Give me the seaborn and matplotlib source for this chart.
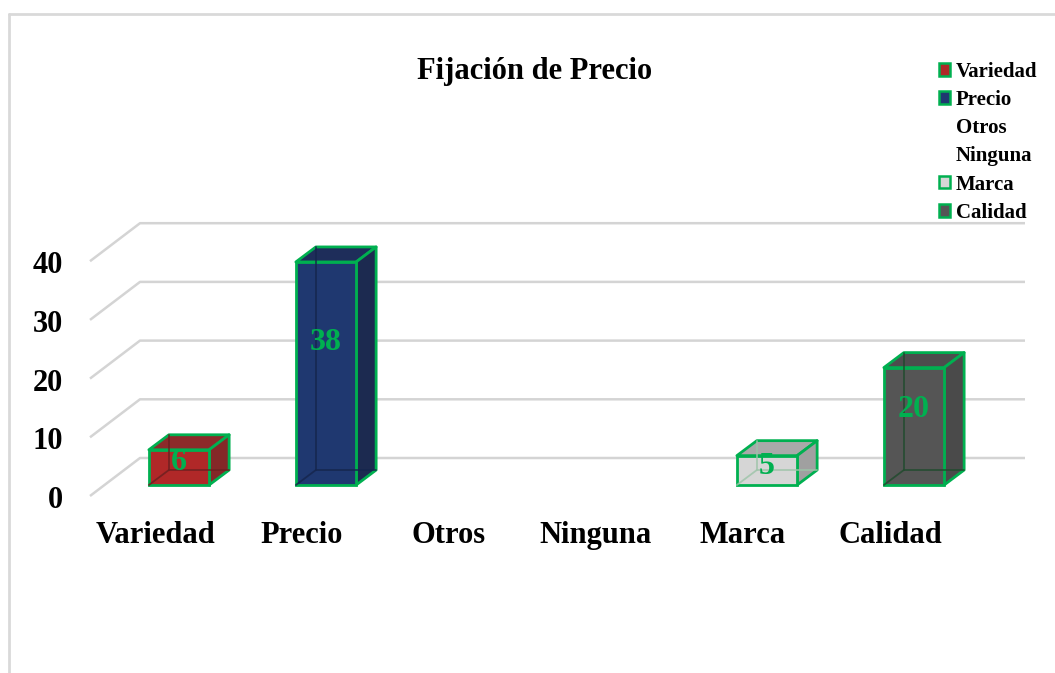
import matplotlib
matplotlib.use("Agg")
import matplotlib.pyplot as plt
import matplotlib.transforms as mtransforms
from matplotlib.patches import Polygon, Patch
from matplotlib.lines import Line2D
import seaborn as sns
import pandas as pd

# ---- data ----
categories = ["Variedad", "Precio", "Otros", "Ninguna", "Marca", "Calidad"]
values = [6, 38, 0, 0, 5, 20]
y_ticks = [0, 10, 20, 30, 40]
title = "Fijación de Precio"

# ---- styles ----
front_colors = ["#B02828", "#1F3870", "#FFFFFF", "#FFFFFF", "#D6D6D6", "#555555"]
top_colors = ["#8C2A2A", "#1E2D5A", "#FFFFFF", "#FFFFFF", "#A9A9A9", "#4D4D4D"]
side_colors = ["#842828", "#1C2A50", "#FFFFFF", "#FFFFFF", "#A0A0A0", "#4A4A4A"]
hidden_colors = ["#6A2020", "#15254C", "#FFFFFF", "#FFFFFF", "#9CC4A8", "#1F4A2C"]
EDGE = "#00B050"
GRID = "#D4D4D4"
FONT = "Liberation Serif"

sns.set_theme(style="white")
plt.rcParams["font.family"] = [FONT, "DejaVu Serif"]
plt.rcParams["font.weight"] = "bold"
plt.rcParams["text.color"] = "black"
plt.rcParams["xtick.color"] = "black"
plt.rcParams["ytick.color"] = "black"
plt.rcParams["xtick.labelcolor"] = "black"
plt.rcParams["ytick.labelcolor"] = "black"

W, H = 1055, 673
fig = plt.figure(figsize=(W / 100, H / 100), dpi=100)

# pixel geometry of the projection
CAT_PX = 147.0     # pixels per category
UNIT_PX = 5.87     # pixels per value unit
X0_PX = 179.0      # pixel x of first bar centre
BASE_PX = 485.0    # pixel y of bar base (front face)
AX_L, AX_R, AX_T, AX_B = 80, 1030, 215, 510

ax = fig.add_axes([AX_L / W, 1 - AX_B / H, (AX_R - AX_L) / W, (AX_B - AX_T) / H])

df = pd.DataFrame({"cat": categories, "val": values})
sns.barplot(data=df, x="cat", y="val", hue="cat", order=categories,
            hue_order=categories, palette=front_colors, width=0.41,
            legend=False, ax=ax, saturation=1)

ax.set_xlim((AX_L - X0_PX) / CAT_PX, (AX_R - X0_PX) / CAT_PX)
ax.set_ylim((BASE_PX - AX_B) / UNIT_PX, (BASE_PX - AX_T) / UNIT_PX)

# depth offsets (data units)
bar_dx, bar_dy = 20 / CAT_PX, 15 / UNIT_PX
front_dx, front_dy = -14.5 / CAT_PX, -11 / UNIT_PX
back_dx, back_dy = 35.5 / CAT_PX, 27 / UNIT_PX
grid_end = (1025 - X0_PX) / CAT_PX
grid_front_x = (90 - X0_PX) / CAT_PX
grid_back_x = grid_front_x + (back_dx - front_dx)

# gridlines: back wall + floor diagonals
for v in y_ticks:
    ax.plot([grid_front_x, grid_back_x, grid_end],
            [v + front_dy, v + back_dy, v + back_dy],
            color=GRID, lw=1.8, zorder=1, solid_capstyle="butt")

# 3D bars
for i, p in enumerate(ax.patches):
    h = p.get_height()
    if h <= 0:
        p.set_visible(False)
        continue
    x0, w = p.get_x(), p.get_width()
    x1 = x0 + w
    p.set_edgecolor(EDGE)
    p.set_linewidth(2)
    p.set_zorder(4)
    top = Polygon([(x0, h), (x1, h), (x1 + bar_dx, h + bar_dy), (x0 + bar_dx, h + bar_dy)],
                  closed=True, facecolor=top_colors[i], edgecolor=EDGE, lw=2,
                  zorder=3, joinstyle="round")
    side = Polygon([(x1, 0), (x1 + bar_dx, bar_dy), (x1 + bar_dx, h + bar_dy), (x1, h)],
                   closed=True, facecolor=side_colors[i], edgecolor=EDGE, lw=2,
                   zorder=3, joinstyle="round")
    ax.add_patch(top)
    ax.add_patch(side)
    # hidden edges seen through the translucent box
    ax.plot([x0 + bar_dx, x0 + bar_dx, x1 + bar_dx], [h + bar_dy, bar_dy, bar_dy],
            color=hidden_colors[i], lw=1.3, zorder=5, alpha=0.8)
    ax.plot([x0, x0 + bar_dx], [0, bar_dy], color=hidden_colors[i], lw=1.3,
            zorder=5, alpha=0.8)
    ax.text(x0 + w / 2, h * 0.64, f"{values[i]}", ha="center", va="center",
            color=EDGE, fontsize=23, fontweight="bold", zorder=6)

# axes styling
for s in ax.spines.values():
    s.set_visible(False)
ax.set_xlabel("")
ax.set_ylabel("")
ax.set_yticks(y_ticks)
ax.set_yticklabels([str(t) for t in y_ticks])
ax.tick_params(axis="both", length=0)
ax.tick_params(axis="y", pad=12, labelsize=22)
ax.tick_params(axis="x", pad=8, labelsize=22)
yoff = mtransforms.ScaledTranslation(0, -12 / 100, fig.dpi_scale_trans)
for lbl in ax.get_yticklabels():
    lbl.set_transform(lbl.get_transform() + yoff)
    lbl.set_fontweight("bold")
    lbl.set_color("black")
xoff = mtransforms.ScaledTranslation(-24 / 100, 0, fig.dpi_scale_trans)
for lbl in ax.get_xticklabels():
    lbl.set_transform(lbl.get_transform() + xoff)
    lbl.set_fontweight("bold")
    lbl.set_color("black")
ax.grid(False)
ax.set_facecolor("none")

# title
fig.text(535 / W, 1 - 72 / H, title, ha="center", va="center",
         fontsize=22, fontweight="bold", color="black")

# legend
handles = []
for i, c in enumerate(categories):
    if values[i] > 0:
        handles.append(Patch(facecolor=front_colors[i], edgecolor=EDGE, lw=1.8))
    else:
        handles.append(Patch(facecolor="none", edgecolor="none"))
leg = fig.legend(handles, categories, loc="upper left",
                 bbox_to_anchor=(939 / W, 1 - 62 / H), frameon=False,
                 prop={"family": FONT, "weight": "bold", "size": 15},
                 handlelength=0.55, handleheight=0.55, handletextpad=0.25,
                 labelspacing=0.39, borderaxespad=0, borderpad=0)
for t in leg.get_texts():
    t.set_color("black")

# outer border (left and top)
fig.add_artist(Line2D([9 / W, 9 / W], [0, 1 - 14 / H], transform=fig.transFigure,
                      color="#D9D9D9", lw=2))
fig.add_artist(Line2D([9 / W, 1], [1 - 14 / H, 1 - 14 / H], transform=fig.transFigure,
                      color="#D9D9D9", lw=2))

fig.savefig("out.png", dpi=100)
